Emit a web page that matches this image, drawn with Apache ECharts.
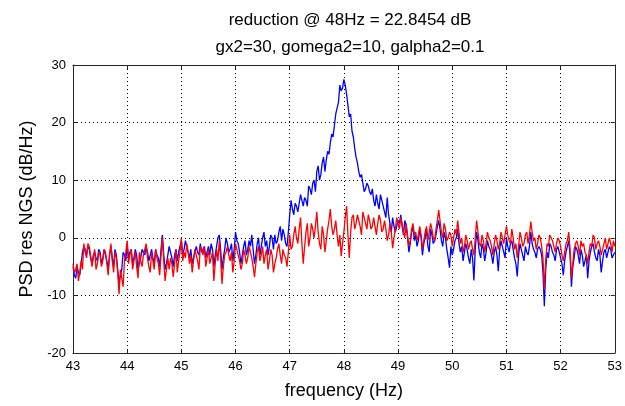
<!DOCTYPE html>
<html lang="en">
<head>
    <meta charset="utf-8">
    <title>PSD res NGS</title>
    <script src="https://cdn.jsdelivr.net/npm/echarts@6/dist/echarts.min.js"></script>
</head>
<body style="margin:0; background:#fff;">
<div id="main" style="width:625px; height:406px;"></div>
<script type="text/javascript">
    // frequency grid, 43..53 Hz in 0.025 Hz steps
    const freqStart = 43, freqStep = 0.025, nPts = 401;
    const xTicks = [43, 44, 45, 46, 47, 48, 49, 50, 51, 52, 53];
    const yTicks = [-20, -10, 0, 10, 20, 30];

    // blue: PSD before reduction (dB/Hz), one row per Hz
    const psdBlue = [
        -5.0, -6.5, -7.0, -5.0, -6.0, -6.5, -4.5, -2.5, -1.5, -2.0, -3.0, -1.5, -2.0, -3.5, -4.5, -3.0, -2.5, -3.5, -4.0, -2.0, -2.5, -4.5, -3.5, -2.0, -2.0, -4.0, -5.5, -3.0, -1.5, -3.5, -5.0, -2.0, -3.0, -5.5, -8.0, -6.5, -5.5, -2.5, -3.0, -4.0, -1.0,
        -3.5, -2.5, -2.0, -4.5, -3.5, -2.0, -3.0, -5.5, -4.5, -3.5, -2.0, -2.5, -3.0, -1.5, -2.5, -4.0, -3.0, -2.0, -3.5, -4.5, -2.0, -3.0, -3.5, -5.0, -2.0, 0.5, -3.0, -5.5, -4.5, -3.0, -1.5, -2.5, -3.5, -5.0, -3.0, -2.0, -4.0, -2.5, -1.5, -0.5,
        -3.0, -2.0, -0.5, -1.5, -2.5, -3.5, -2.0, -4.5, -3.5, -2.5, -1.5, -2.5, -3.0, -1.0, -2.5, -2.0, -1.5, -3.5, -2.5, -1.5, -3.0, -1.0, -2.0, -5.0, -3.0, -1.5, 0.0, 0.5, -2.0, -5.5, -3.5, -2.0, 0.0, -1.0, -2.5, -2.0, -1.0, -4.0, -2.0, 1.0,
        -0.5, -1.0, -2.5, -4.5, -3.0, -1.5, -0.5, -3.0, -2.0, -0.5, -1.5, 0.5, -2.0, -4.5, -3.0, -1.0, 0.0, -3.0, -1.5, 0.0, 1.0, -1.5, -0.5, -3.0, -1.5, 0.5, 0.0, -2.0, 0.5, -1.0, -0.5, 1.0, 2.0, -0.5, 1.5, 0.5, -1.0, -1.5, 1.0, 4.0,
        6.5, 5.0, 4.0, 6.0, 5.5, 4.5, 6.0, 7.5, 6.5, 5.5, 7.0, 6.5, 5.5, 9.0, 8.5, 7.5, 9.5, 10.0, 8.0, 11.5, 12.5, 10.0, 11.0, 13.0, 14.0, 11.5, 13.5, 15.0, 14.5, 16.5, 18.0, 17.5, 19.5, 21.5, 22.5, 23.5, 26.5, 25.5, 26.0, 27.5,
        26.5, 25.0, 23.0, 21.0, 21.5, 18.5, 17.5, 15.5, 14.0, 13.0, 11.5, 10.5, 11.0, 9.5, 8.0, 8.5, 9.5, 9.0, 8.0, 7.5, 8.5, 6.5, 5.5, 7.5, 6.0, 5.0, 7.5, 6.5, 5.5, 4.5, 3.5, 7.0, 4.0, 2.5, 1.0, 3.5, 2.0, 1.0, 2.0, 3.0,
        2.5, 4.0, 2.0, 0.5, 3.0, 2.0, 0.0, -2.5, -1.0, 1.0, 2.0, -0.5, 0.5, -1.5, -0.5, 1.5, 0.0, -3.0, -1.0, 0.0, 1.5, -1.5, -2.5, 1.5, 0.5, -1.0, -0.5, 0.5, 2.0, 3.0, 1.5, -0.5, -1.5, 1.0, 0.0, -2.0, -3.5, -5.2, -1.5, -3.0,
        -2.0, -0.5, 0.0, 1.5, -1.0, -2.5, -1.5, -4.0, -2.5, -1.0, -2.0, -3.5, -4.5, -2.0, -3.5, -7.4, -2.0, 1.0, -0.5, -2.5, -3.5, -1.0, -2.0, -4.0, -2.5, -0.5, -1.5, -2.0, -3.0, -4.5, -2.5, -1.5, -3.0, -5.8, -2.0, -0.5, -1.5, -2.5, -3.5, 0.0,
        -1.5, -2.5, -1.0, -0.5, -2.0, -3.5, -4.5, -6.7, -3.0, -1.0, -2.0, -3.0, -4.0, -1.5, -2.5, -3.0, -1.5, 1.0, -1.0, -2.0, -2.5, -3.5, -2.0, -1.5, -2.0, -3.0, -6.0, -11.9, -5.5, -2.5, -3.5, -1.0, -1.5, -2.5, -3.0, -4.0, -2.0, -1.5, -2.5, -3.5,
        -4.5, -6.5, -4.0, -2.5, -1.5, -0.5, -3.0, -8.5, -5.0, -3.5, -1.5, -2.0, -3.0, -4.5, -2.0, -3.0, -5.0, -4.0, -3.0, -7.0, -4.0, -2.5, -1.5, -1.0, -2.5, -3.5, -4.0, -2.0, -3.0, -6.0, -4.0, -2.5, -2.0, -3.5, -2.5, -1.5, -2.0, -3.5, -3.0, -2.5
    ];

    // red: PSD after reduction (dB/Hz), one row per Hz
    const psdRed = [
        -4.5, -6.0, -5.5, -4.5, -7.5, -6.0, -4.0, -5.5, -1.0, -2.5, -3.5, -1.0, -1.5, -3.0, -5.0, -3.5, -2.0, -5.5, -4.5, -2.5, -3.0, -5.0, -4.0, -2.0, -2.5, -4.5, -6.5, -3.0, -1.0, -4.0, -6.0, -2.5, -3.5, -6.0, -9.8, -5.5, -7.0, -8.5, -4.0, -2.5, -0.5,
        -4.5, -3.0, -2.0, -5.5, -4.0, -2.5, -5.0, -7.0, -2.5, -4.0, -5.0, -3.0, -2.0, -1.0, -3.5, -5.0, -6.0, -2.5, -4.0, -5.5, -2.0, -3.5, -4.5, -6.5, -3.0, 0.0, -4.0, -7.5, -5.5, -3.5, -5.5, -3.5, -4.5, -6.8, -4.5, -2.0, -6.0, -4.0, -2.5, 0.0,
        -4.0, -2.5, -3.5, -1.0, -2.5, -4.5, -3.0, -6.0, -4.0, -2.0, -3.0, -4.0, -5.5, -1.5, -2.0, -3.0, -1.5, -5.0, -3.5, -2.0, -4.5, -3.5, -2.5, -7.5, -4.5, -2.0, -4.0, -0.5, -3.5, -8.0, -5.0, -3.0, -2.5, -1.5, -3.0, -4.0, -2.5, -6.0, -4.0, -1.0,
        -2.0, -3.0, -4.0, -5.5, -4.5, -2.0, -3.0, -4.5, -3.5, -1.5, -2.5, -3.5, -5.0, -6.8, -4.5, -2.5, -1.5, -4.0, -3.0, -1.5, -4.5, -3.0, -2.0, -5.5, -4.0, -2.0, -3.0, -6.0, -4.5, -3.5, -2.0, -1.0, -3.0, -4.5, -2.0, -3.0, -3.5, -5.0, -2.5, 0.5,
        -2.0, -1.5, 0.5, 2.0, 0.0, -1.0, 1.5, 3.5, -1.0, -4.5, -1.5, 1.0, 2.5, -1.5, 0.0, 2.5, 1.5, 0.0, 2.0, 4.5, 1.0, -1.0, -2.0, 2.0, 0.5, -2.5, -0.5, 1.5, 3.0, 5.0, 2.0, 0.5, 1.5, 3.0, 0.5, -1.5, 0.5, -3.2, -1.0, 1.0,
        3.5, 5.5, 0.5, -3.5, 1.0, 3.5, 4.0, 1.5, 2.5, 4.0, 3.0, 2.0, 0.5, 4.5, 3.5, 2.5, 1.5, 4.0, 3.0, 1.5, 2.0, 3.5, 2.0, 0.5, 2.5, 4.0, 3.0, 1.0, 1.5, 3.0, 1.5, -0.5, 0.5, 2.5, 1.0, -1.8, 0.0, 1.5, 3.5, 2.5,
        1.5, 3.5, 2.5, 1.0, 0.0, 2.5, 0.5, -1.5, -0.5, 1.5, 2.5, 0.5, 1.0, -0.5, 0.5, 2.0, 0.5, -2.0, -0.5, 1.0, 2.0, -0.5, 1.0, 2.5, 1.5, 0.0, -0.5, 1.5, 3.0, 4.8, 3.0, 1.0, 0.0, 2.5, 1.5, -0.5, 0.0, 1.0, 0.5, -1.5,
        0.0, 1.5, 0.5, 3.0, 1.0, -1.0, 0.0, -2.5, -1.5, 0.5, -0.5, -2.0, -1.0, -0.5, -2.0, -3.0, 0.0, 3.0, 1.0, -1.0, -1.5, 0.5, -0.5, -2.5, -1.0, 1.0, 0.0, -0.5, -1.5, -3.0, -1.0, 0.5, -0.5, -2.0, -1.0, 1.0, 0.0, -1.0, 0.5, 2.0,
        0.5, -0.5, -1.0, 1.5, 0.0, -2.0, -1.0, -3.5, -1.5, 1.0, 0.0, -1.5, -1.0, 0.5, 1.0, -1.0, 0.5, 2.8, 1.0, -0.5, 0.0, -2.0, -1.0, 0.5, 0.0, -1.5, -3.5, -9.0, -4.0, -1.0, -1.5, 0.5, 0.0, -0.5, -1.5, -2.5, -1.0, 0.0, -0.5, -1.5,
        -3.0, -4.0, -2.5, -1.0, -0.5, 1.0, -2.0, -7.0, -4.5, -2.0, -1.0, -0.5, -1.5, -3.0, -0.5, -1.5, -1.0, -2.5, -3.0, -4.5, -2.5, -1.0, -1.5, 0.5, 0.0, -2.0, -1.0, -0.5, -1.5, -3.0, -2.0, -1.0, 0.0, -2.0, -1.0, 0.0, -1.0, -2.5, -0.5, -1.5
    ];

    function pairs(vals) {
        const out = [];
        for (let i = 0; i < vals.length && i < nPts; i++) {
            out.push([+(freqStart + i * freqStep).toFixed(3), vals[i]]);
        }
        return out;
    }

    const myChart = echarts.init(document.getElementById('main'));
    const font = 'Liberation Sans';
    const dotted = {show: true, lineStyle: {color: '#000', width: 1, type: [1, 3]}};
    const boxLine = {show: true, onZero: false, lineStyle: {color: '#262626', width: 1}};
    const inTick = {show: true, inside: true, length: 4, lineStyle: {color: '#262626'}};

    const option = {
        animation: false,
        backgroundColor: '#fff',
        title: [{
            text: 'reduction @ 48Hz = 22.8454 dB',
            left: 345, top: 7, textAlign: 'center',
            textStyle: {fontFamily: font, fontSize: 17, fontWeight: 'normal', color: '#000'}
        }, {
            text: 'gx2=30, gomega2=10, galpha2=0.1',
            left: 345, top: 34, textAlign: 'center',
            textStyle: {fontFamily: font, fontSize: 17, fontWeight: 'normal', color: '#000'}
        }],
        grid: {left: 73, right: 7, top: 65, bottom: 53},
        xAxis: [{
            type: 'value', min: 43, max: 53, interval: 1,
            name: 'frequency (Hz)', nameLocation: 'middle', nameGap: 29,
            nameTextStyle: {fontFamily: font, fontSize: 18, color: '#000'},
            axisLine: boxLine, axisTick: inTick, splitLine: dotted,
            axisLabel: {fontFamily: font, fontSize: 13, color: '#000', margin: 7,
                formatter: v => xTicks.includes(v) ? String(v) : ''}
        }, {
            type: 'value', min: 43, max: 53, interval: 1, position: 'top',
            axisLine: boxLine, axisTick: inTick, axisLabel: {show: false}, splitLine: {show: false}
        }],
        yAxis: [{
            type: 'value', min: -20, max: 30, interval: 10,
            name: 'PSD res NGS (dB/Hz)', nameLocation: 'middle', nameGap: 34,
            nameTextStyle: {fontFamily: font, fontSize: 18, color: '#000'},
            axisLine: boxLine, axisTick: inTick, splitLine: dotted,
            axisLabel: {fontFamily: font, fontSize: 13, color: '#000', margin: 7,
                formatter: v => yTicks.includes(v) ? String(v) : ''}
        }, {
            type: 'value', min: -20, max: 30, interval: 10, position: 'right',
            axisLine: boxLine, axisTick: inTick, axisLabel: {show: false}, splitLine: {show: false}
        }],
        series: [{
            name: 'before', type: 'line', xAxisIndex: 0, yAxisIndex: 0,
            data: pairs(psdBlue), showSymbol: false, symbol: 'none',
            lineStyle: {color: '#0000ff', width: 1.3}
        }, {
            name: 'after', type: 'line', xAxisIndex: 0, yAxisIndex: 0,
            data: pairs(psdRed), showSymbol: false, symbol: 'none',
            lineStyle: {color: '#ff0000', width: 1.3}
        }]
    };
    myChart.setOption(option);
</script>
</body>
</html>
